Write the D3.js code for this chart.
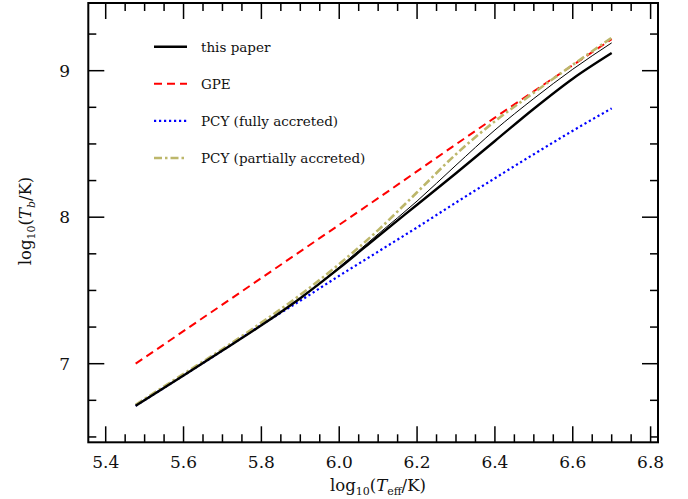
<!DOCTYPE html>
<html><head><meta charset="utf-8">
<script src="https://cdn.jsdelivr.net/npm/d3@7"></script>
<style>body{margin:0;background:#fff}svg{display:block}text{font-family:"DejaVu Serif",serif;fill:#111}</style>
</head><body>
<script>
const W=688,H=499;
const xTicks=[5.4,5.6,5.8,6.0,6.2,6.4,6.6,6.8];
const yTicks=[7,8,9];
const teff=[5.477,5.6,5.7,5.8,5.9,6.0,6.1,6.2,6.3,6.4,6.5,6.6,6.7];
const thisPaper=[6.713,6.92,7.09,7.262,7.447,7.652,7.87,8.085,8.30,8.52,8.74,8.945,9.12];
const thisPaperThin=[6.713,6.92,7.09,7.262,7.447,7.66,7.885,8.11,8.355,8.595,8.81,9.01,9.19];
const gpeTeff=[5.477,5.8,6.1,6.4,6.7];
const gpe=[7.0,7.585,8.13,8.68,9.215];
const pcyFull=[6.713,6.92,7.09,7.265,7.43,7.6,7.765,7.93,8.10,8.266,8.43,8.59,8.743];
const pcyPart=[6.72,6.93,7.10,7.28,7.47,7.68,7.912,8.17,8.43,8.655,8.85,9.04,9.225];
const legendLabels=["this paper","GPE","PCY (fully accreted)","PCY (partially accreted)"];

const svg=d3.select("body").append("svg").attr("width",W).attr("height",H);
const x=d3.scaleLinear().domain([5.3553,6.819]).range([88.3,658]);
const y=d3.scaleLinear().domain([6.4635,9.462]).range([442.3,3]);
const L=88.3,R=658,T=3,B=442.3;

const line=(xs,ys)=>d3.line().x((d,i)=>x(xs[i])).y(d=>y(d)).curve(d3.curveMonotoneX)(ys);

const series=[
 {xs:gpeTeff,ys:gpe,stroke:"#ff0000",w:2,dash:"8,5"},
 {xs:teff,ys:pcyFull,stroke:"#0000ff",w:2.2,dash:"2.2,2.8"},
 {xs:teff,ys:pcyPart,stroke:"#bdb76b",w:2.6,dash:"8,3,2.5,3"},
 {xs:teff,ys:thisPaperThin,stroke:"#000",w:1,dash:null},
 {xs:teff,ys:thisPaper,stroke:"#000",w:2.4,dash:null}
];
series.forEach(s=>{
 svg.append("path").attr("d",line(s.xs,s.ys)).attr("fill","none").attr("stroke",s.stroke)
  .attr("stroke-width",s.w).attr("stroke-dasharray",s.dash);
});

// frame
svg.append("rect").attr("x",L).attr("y",T).attr("width",R-L).attr("height",B-T)
 .attr("fill","none").attr("stroke","#000").attr("stroke-width",2);

const g=svg.append("g").attr("stroke","#000").attr("stroke-width",1.5);
const xMinor=d3.range(5.4,6.82,0.05);
const yMinor=d3.range(6.5,9.46,0.25);
xMinor.forEach(v=>{const major=xTicks.some(t=>Math.abs(t-v)<1e-6);const len=major?16:8;
 g.append("line").attr("x1",x(v)).attr("x2",x(v)).attr("y1",B).attr("y2",B-len);
 g.append("line").attr("x1",x(v)).attr("x2",x(v)).attr("y1",T).attr("y2",T+len);});
yMinor.forEach(v=>{const major=yTicks.some(t=>Math.abs(t-v)<1e-6);const len=major?16:8;
 g.append("line").attr("y1",y(v)).attr("y2",y(v)).attr("x1",L).attr("x2",L+len);
 g.append("line").attr("y1",y(v)).attr("y2",y(v)).attr("x1",R).attr("x2",R-len);});

svg.selectAll(".xt").data(xTicks).enter().append("text").attr("x",d=>x(d)).attr("y",468)
 .attr("text-anchor","middle").attr("font-size",17).text(d=>d.toFixed(1));
svg.selectAll(".yt").data(yTicks).enter().append("text").attr("x",70).attr("y",d=>y(d)+6)
 .attr("text-anchor","end").attr("font-size",17).text(d=>d);

// x label
const xl=svg.append("text").attr("x",378).attr("y",491).attr("text-anchor","middle").attr("font-size",16.5);
xl.append("tspan").text("log");
xl.append("tspan").attr("font-size",11).attr("dy",4).text("10");
xl.append("tspan").attr("dy",-4).text("(");
xl.append("tspan").attr("font-style","italic").text("T");
xl.append("tspan").attr("font-size",11).attr("dy",4).text("eff");
xl.append("tspan").attr("dy",-4).text("/K)");
// y label
const yl=svg.append("text").attr("transform","translate(31,221) rotate(-90)").attr("text-anchor","middle").attr("font-size",16.5);
yl.append("tspan").text("log");
yl.append("tspan").attr("font-size",11).attr("dy",4).text("10");
yl.append("tspan").attr("dy",-4).text("(");
yl.append("tspan").attr("font-style","italic").text("T");
yl.append("tspan").attr("font-size",11).attr("dy",4).attr("font-style","italic").text("b");
yl.append("tspan").attr("dy",-4).text("/K)");

// legend
const lg=[{stroke:"#000",w:2.4,dash:null},{stroke:"#ff0000",w:2,dash:"8,5"},{stroke:"#0000ff",w:2.2,dash:"2.2,2.8"},{stroke:"#bdb76b",w:2.6,dash:"8,3,2.5,3"}];
legendLabels.forEach((t,i)=>{const yy=46.7+i*37.1;
 svg.append("line").attr("x1",154).attr("x2",187).attr("y1",yy).attr("y2",yy).attr("stroke",lg[i].stroke)
  .attr("stroke-width",lg[i].w).attr("stroke-dasharray",lg[i].dash);
 svg.append("text").attr("x",201).attr("y",yy+5).attr("font-size",13.5).text(t);});
</script>
</body></html>
